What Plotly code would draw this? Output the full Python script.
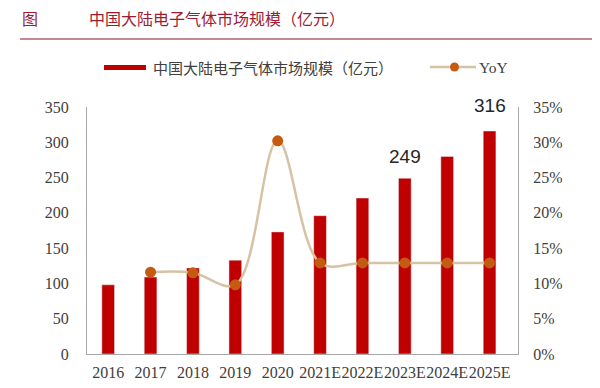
import plotly.graph_objects as go

years = ["2016", "2017", "2018", "2019", "2020", "2021E", "2022E", "2023E", "2024E", "2025E"]
market_size = [98, 109, 122, 133, 173, 196, 221, 249, 280, 316]
yoy_years = ["2017", "2018", "2019", "2020", "2021E", "2022E", "2023E", "2024E", "2025E"]
yoy = [0.116, 0.115, 0.098, 0.302, 0.129, 0.129, 0.129, 0.129, 0.129]
labelled = ["2023E", "2025E"]
label_gap = {"2023E": 9, "2025E": 13}
left_ticks = [0, 50, 100, 150, 200, 250, 300, 350]
right_ticks = [0, 0.05, 0.10, 0.15, 0.20, 0.25, 0.30, 0.35]

BAR = "#C00000"
LINE = "#D7C2A3"
MARK = "#C55A11"
TITLE = "#9E1B32"
AX = "#A6A6A6"
TXT = "#404040"
SERIF = "Liberation Serif, Times New Roman, serif"
CJK = "Noto Sans CJK SC"
PW, PH = 431, 247  # plot area size in px


def py(page_y):
    """paper y for a page pixel row (plot bottom at page y=354)."""
    return (354 - page_y) / PH


def px(page_x):
    """paper x for a page pixel column (plot left at page x=87)."""
    return (page_x - 87) / PW


fig = go.Figure()
fig.add_trace(go.Bar(x=years, y=market_size, marker_color=BAR, width=0.3,
                     name="中国大陆电子气体市场规模（亿元）", showlegend=False))
fig.add_trace(go.Scatter(x=yoy_years, y=yoy, yaxis="y2", mode="lines+markers",
                         line=dict(color=LINE, width=2.5, shape="spline", smoothing=1.0),
                         marker=dict(color=MARK, size=11), name="YoY", showlegend=False))

for k in labelled:
    v = market_size[years.index(k)]
    fig.add_annotation(x=k, y=v, text=str(v), showarrow=False, yanchor="bottom",
                       yshift=label_gap[k],
                       font=dict(family="Liberation Sans, Arial", size=19, color="#262626"))

# title and rule
fig.add_annotation(xref="paper", yref="paper", x=px(20), y=py(18), height=20,
                   xanchor="left", yanchor="middle", showarrow=False, text="图",
                   font=dict(family=CJK, size=16, color=TITLE))
fig.add_annotation(xref="paper", yref="paper", x=px(87), y=py(18), height=20,
                   xanchor="left", yanchor="middle", showarrow=False,
                   text="中国大陆电子气体市场规模（亿元）",
                   font=dict(family=CJK, size=16, color=TITLE))
fig.add_shape(type="line", xref="paper", yref="paper", x0=px(20), x1=px(592),
              y0=py(39), y1=py(39), line=dict(color="#B06070", width=1.5))

# legend
fig.add_shape(type="rect", xref="paper", yref="paper", x0=px(104), x1=px(146),
              y0=py(70), y1=py(65), fillcolor=BAR, line=dict(width=0))
fig.add_annotation(xref="paper", yref="paper", x=px(151), y=py(67),
                   xanchor="left", yanchor="middle", showarrow=False,
                   text="中国大陆电子气体市场规模（亿元）",
                   font=dict(family=CJK, size=15, color=TXT))
fig.add_shape(type="line", xref="paper", yref="paper", x0=px(430), x1=px(476),
              y0=py(67), y1=py(67), line=dict(color=LINE, width=2.5))
fig.add_shape(type="circle", xref="paper", yref="paper", x0=px(450), x1=px(459),
              y0=py(71.5), y1=py(62.5), fillcolor=MARK, line=dict(width=0))
fig.add_annotation(xref="paper", yref="paper", x=px(477), y=py(67),
                   xanchor="left", yanchor="middle", showarrow=False, text="YoY",
                   font=dict(family=SERIF, size=15.5, color=TXT))

fig.update_layout(
    width=600, height=388,
    margin=dict(l=87, r=82, t=107, b=34, autoexpand=False),
    paper_bgcolor="white", plot_bgcolor="white",
    xaxis=dict(type="category", categoryorder="array", categoryarray=years,
               showline=True, linecolor=AX, linewidth=1, ticks="", showgrid=False,
               ticklabelstandoff=4, tickangle=0, automargin=False,
               tickfont=dict(family=SERIF, size=16, color=TXT)),
    yaxis=dict(range=[0, 350], tickvals=left_ticks, showgrid=False, zeroline=False,
               showline=True, linecolor=AX, linewidth=1, ticks="", automargin=False,
               ticklabelstandoff=14,
               tickfont=dict(family=SERIF, size=16, color=TXT)),
    yaxis2=dict(range=[0, 0.35], tickvals=right_ticks, tickformat=".0%", overlaying="y",
                side="right", showgrid=False, zeroline=False, showline=True,
                linecolor=AX, linewidth=1, ticks="", ticklabelstandoff=11, automargin=False,
                tickfont=dict(family=SERIF, size=16, color=TXT)),
)

fig.write_html("out.html", config={"displayModeBar": False},
               post_script="document.body.style.margin='0px';document.body.style.overflow='hidden';")
